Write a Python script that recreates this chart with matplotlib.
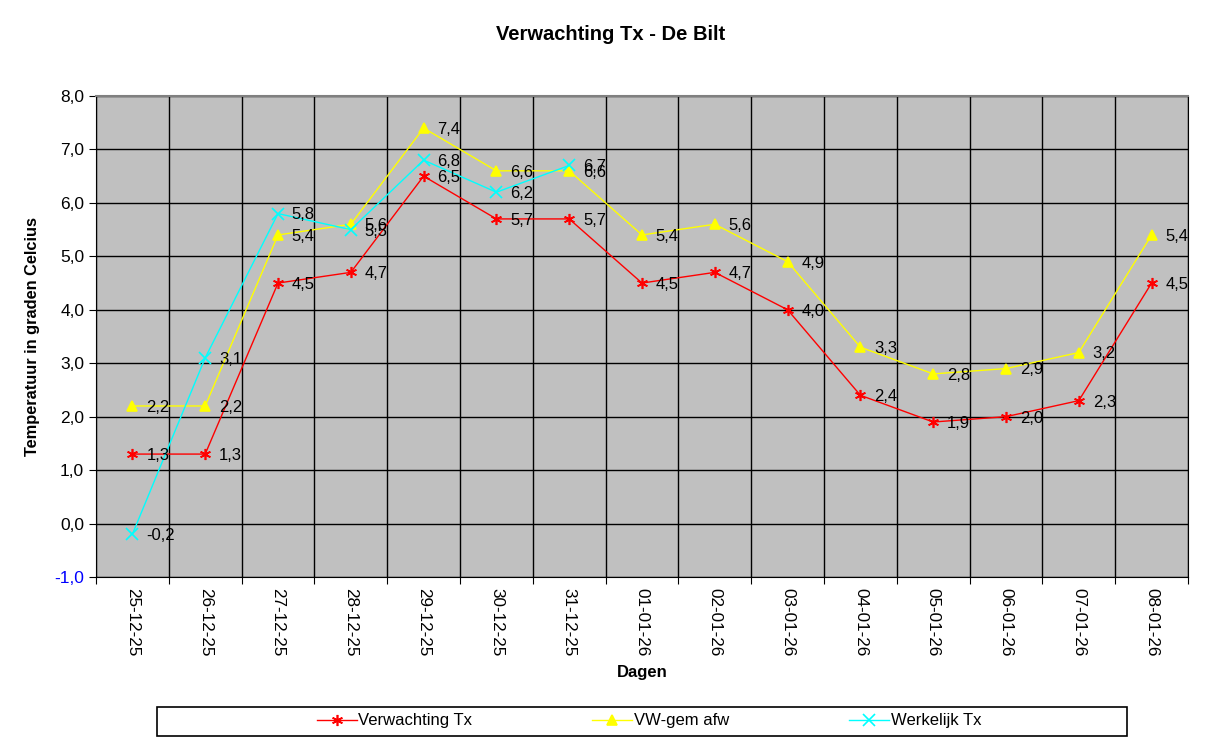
import matplotlib.pyplot as plt
from matplotlib.patches import Rectangle
import numpy as np

plt.rcParams['font.family'] = ['Liberation Sans', 'DejaVu Sans']

dagen = ["25-12-25", "26-12-25", "27-12-25", "28-12-25", "29-12-25", "30-12-25",
         "31-12-25", "01-01-26", "02-01-26", "03-01-26", "04-01-26", "05-01-26",
         "06-01-26", "07-01-26", "08-01-26"]
verwachting = [1.3, 1.3, 4.5, 4.7, 6.5, 5.7, 5.7, 4.5, 4.7, 4.0, 2.4, 1.9, 2.0, 2.3, 4.5]
vw_gem = [2.2, 2.2, 5.4, 5.6, 7.4, 6.6, 6.6, 5.4, 5.6, 4.9, 3.3, 2.8, 2.9, 3.2, 5.4]
werkelijk = [-0.2, 3.1, 5.8, 5.5, 6.8, 6.2, 6.7]

fig = plt.figure(figsize=(12.21, 7.48), dpi=100)
ax = fig.add_axes([96/1221, 1 - 577/748, (1188 - 96)/1221, (577 - 96)/748])
ax.set_facecolor("#C0C0C0")

x = np.arange(len(dagen))
series = [
    (verwachting, "Verwachting Tx", "#FF0000", (6, 2, 0), 8),
    (vw_gem, "VW-gem afw", "#FFFF00", "^", 7),
    (werkelijk, "Werkelijk Tx", "#00FFFF", "x", 8),
]
handles = []
for vals, name, col, mk, ms in series:
    xs = x[:len(vals)]
    h, = ax.plot(xs, vals, color=col, lw=1, marker=mk, markersize=ms,
                 markeredgecolor=col, markerfacecolor=col, markeredgewidth=1.2,
                 label=name, zorder=3)
    handles.append(h)
    for xi, v in zip(xs, vals):
        ax.annotate(f"{v:.1f}".replace(".", ","), (xi, v), xytext=(10, -1),
                    textcoords="offset points", va="center", ha="left",
                    fontsize=12, color="black", zorder=4)

ax.set_xlim(-0.5, len(dagen) - 0.5)
ax.set_ylim(-1, 8)
ax.set_yticks(np.arange(-1, 9, 1))
ax.set_yticklabels([f"{v:.1f}".replace(".", ",") for v in np.arange(-1, 9, 1)], fontsize=12.5)
ax.get_yticklabels()[0].set_color("#0000FF")

ax.set_xticks(np.arange(-0.5, len(dagen), 1))
ax.set_xticklabels([])
ax.set_xticks(x, minor=True)
ax.set_xticklabels(dagen, minor=True, rotation=270, fontsize=12.3)
ax.tick_params(axis="x", which="minor", length=0, pad=8)
ax.tick_params(axis="x", which="major", length=5, direction="out")
ax.tick_params(axis="y", length=5, direction="out")

ax.grid(True, which="major", color="black", lw=1)
ax.set_axisbelow(True)
for s in ["left", "bottom", "right"]:
    ax.spines[s].set_color("black")
ax.spines["top"].set_color("#808080")
ax.spines["top"].set_linewidth(1.5)

ax.set_ylabel("Temperatuur in graden Celcius", fontsize=11.8, fontweight="bold", labelpad=10)
ax.set_xlabel("Dagen", fontsize=12, fontweight="bold", labelpad=6)

fig.text(0.5, 1 - 35/748, "Verwachting Tx - De Bilt", ha="center", va="center",
         fontsize=14.5, fontweight="bold")

fig.patches.append(Rectangle((157/1221, 1 - 736/748), (1127 - 157)/1221, 29/748,
                             transform=fig.transFigure, fill=False,
                             edgecolor="black", lw=1.2))
fig.legend(handles=handles, loc="center", bbox_to_anchor=(649/1221, 1 - 721/748),
           ncol=3, frameon=False, fontsize=12, columnspacing=7.2,
           handlelength=2.4, handletextpad=0.1)

fig.savefig("out.png", dpi=100)
